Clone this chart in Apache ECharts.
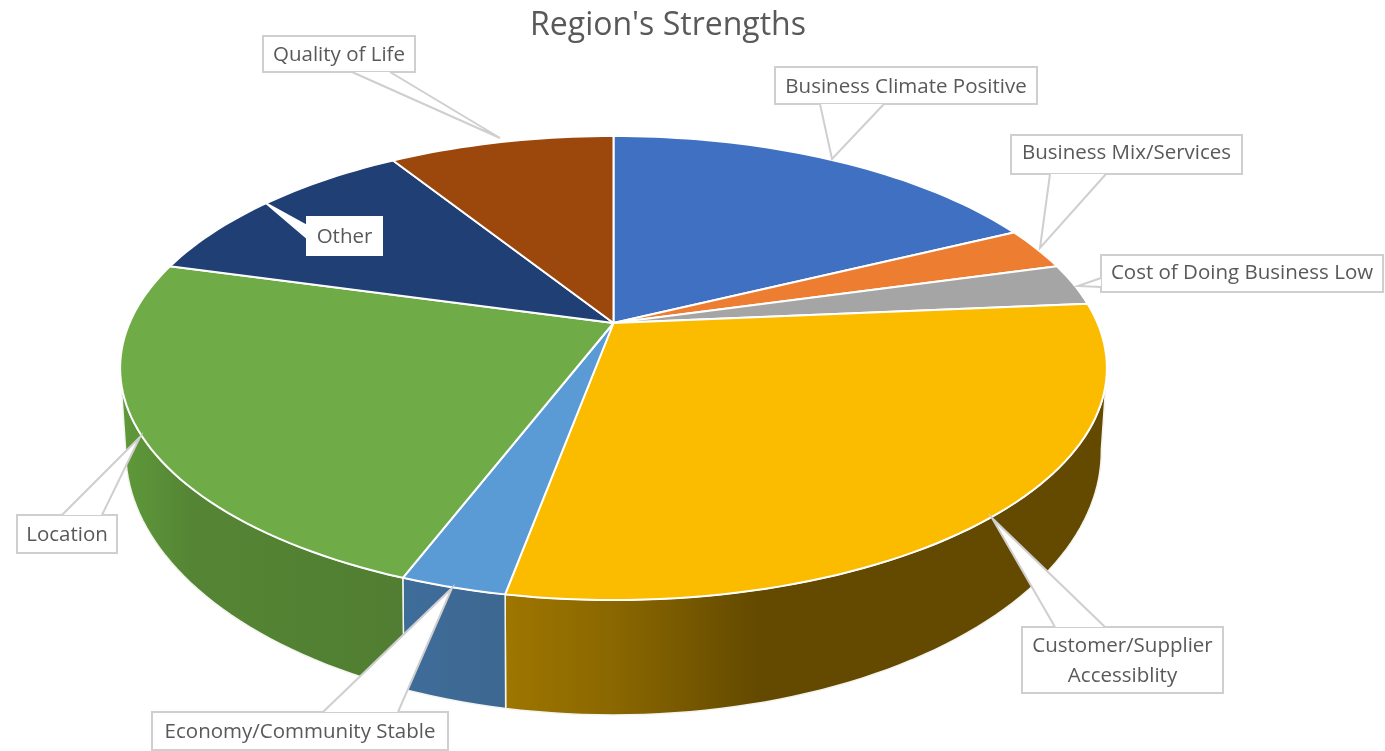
<!DOCTYPE html>
<html><head><meta charset="utf-8">
<style>html,body{margin:0;padding:0;background:#fff}#c{width:1385px;height:751px}</style>
<script src="https://cdn.jsdelivr.net/npm/echarts@6/dist/echarts.min.js"></script>
</head><body><div id="c"></div>
<script>
const titleText = "Region's Strengths";
const categories = ['Business Climate Positive','Business Mix/Services','Cost of Doing Business Low','Customer/Supplier\nAccessiblity','Economy/Community Stable','Location','Other','Quality of Life'];
const shares = [17.75,2.95,2.9,29.3,2.9,23.5,11.8,8.9];

const topColors = ['#4070C2','#ED7D31','#A5A5A5','#FBBC00','#5B9BD5','#6FAB46','#203F75','#9C470C'];
const wallFills = {
  3:[[0,'#9E7600'],[0.18,'#8A6700'],[0.42,'#644A00'],[1,'#644A00']],
  4:[[0,'#3F6D9A'],[1,'#3C6790']],
  5:[[0,'#5F9A3A'],[0.25,'#558534'],[1,'#517E32']]
};
// perspective model of the two disc rims
const topDisc = {x:613.5,y:323,a:484,b:223.3,k:0.194};
const lowDisc = {x:613.5,y:398.2,a:478,b:253.4,k:0.2};
const wallFrom = 101.3, wallTo = 258.7;
function rim(d,deg){const t=deg*Math.PI/180,u=Math.sin(t),v=-Math.cos(t),w=1-d.k*v;return [d.x+d.a*u/w,d.y+d.b*v/w];}
function arc(d,a0,a1){const n=Math.max(2,Math.ceil(Math.abs(a1-a0)/1.5)),o=[];for(let i=0;i<=n;i++)o.push(rim(d,a0+(a1-a0)*i/n));return o;}
const total = shares.reduce((s,v)=>s+v,0);
const starts = shares.reduce((o,v)=>{o.push(o[o.length-1]+v/total*360);return o;},[0]);

const callouts = [
 {box:[775,67,262,37],base:[[820,104],[884,104]],tip:[832,159],dy:1.5},
 {box:[1011,135,231,39],base:[[1050,174],[1106,174]],tip:[1040,248],dy:-1},
 {box:[1101,255,282,37],base:[[1101,278],[1101,287]],tip:[1078,286],dy:-0.5},
 {box:[1022,627,201,66],base:[[1055,627],[1105,627]],tip:[992,518],dy:1.5},
 {box:[152,712,296,38],base:[[323,712],[398,712]],tip:[452,588],dy:1.5},
 {box:[17,515,100,38],base:[[62,515],[102,515]],tip:[140,437],dy:1.5},
 {box:[307,217,75,38],base:[[307,226],[307,238]],tip:[267,204],plain:true,dy:1.5},
 {box:[263,36,152,36],base:[[352,72],[390,72]],tip:[500,138],dy:1.5}
];
const seriesData = categories.map((c,i)=>({name:c,value:[i,shares[i]]}));

function renderWall(params,api){
  const i=api.value(0);
  const a0=Math.max(starts[i],wallFrom),a1=Math.min(starts[i+1],wallTo);
  if(a1<=a0) return {type:'group',children:[]};
  const pts=arc(topDisc,a0,a1).concat(arc(lowDisc,a1,a0));
  return {type:'polygon',shape:{points:pts},style:{
    fill:{type:'linear',x:0,y:0,x2:1,y2:0,colorStops:(wallFills[i]||[[0,'#000'],[1,'#000']]).map(s=>({offset:s[0],color:s[1]}))},
    stroke:'#f4f4ee',lineWidth:1.5,lineJoin:'round'}};
}
function renderTop(params,api){
  const i=api.value(0);
  const pts=[[topDisc.x,topDisc.y]].concat(arc(topDisc,starts[i],starts[i+1]));
  return {type:'polygon',shape:{points:pts},style:{fill:topColors[i],stroke:'#ffffff',lineWidth:2,lineJoin:'round'}};
}
function renderCallout(params,api){
  const i=api.value(0),c=callouts[i],[x,y,w,h]=c.box,line=c.plain?'#ffffff':'#CFCFCF';
  return {type:'group',children:[
    {type:'rect',shape:{x,y,width:w,height:h},style:{fill:'#fff',stroke:line,lineWidth:2}},
    {type:'polygon',shape:{points:[c.base[0],c.tip,c.base[1]]},style:{fill:'#fff',stroke:null}},
    {type:'polyline',shape:{points:[c.base[0],c.tip,c.base[1]]},style:{fill:null,stroke:line,lineWidth:2}},
    {type:'text',x:x+w/2,y:y+h/2+c.dy,style:{text:categories[i],fill:'#595959',align:'center',verticalAlign:'middle',
      font:'20.5px "Open Sans"',lineHeight:30}}
  ]};
}
const chart=echarts.init(document.getElementById('c'),null,{renderer:'canvas'});
chart.setOption({
  animation:false,backgroundColor:'#ffffff',
  title:{text:titleText,left:663,top:5,textAlign:'center',textStyle:{color:'#595959',fontWeight:'normal',fontSize:32,fontFamily:'Open Sans'}},
  series:[
    {type:'custom',name:'wall',coordinateSystem:'none',z:1,silent:true,renderItem:renderWall,data:seriesData},
    {type:'custom',name:'top',coordinateSystem:'none',z:2,silent:true,renderItem:renderTop,data:seriesData},
    {type:'custom',name:'labels',coordinateSystem:'none',z:3,silent:true,renderItem:renderCallout,data:seriesData}
  ]
});
</script></body></html>
